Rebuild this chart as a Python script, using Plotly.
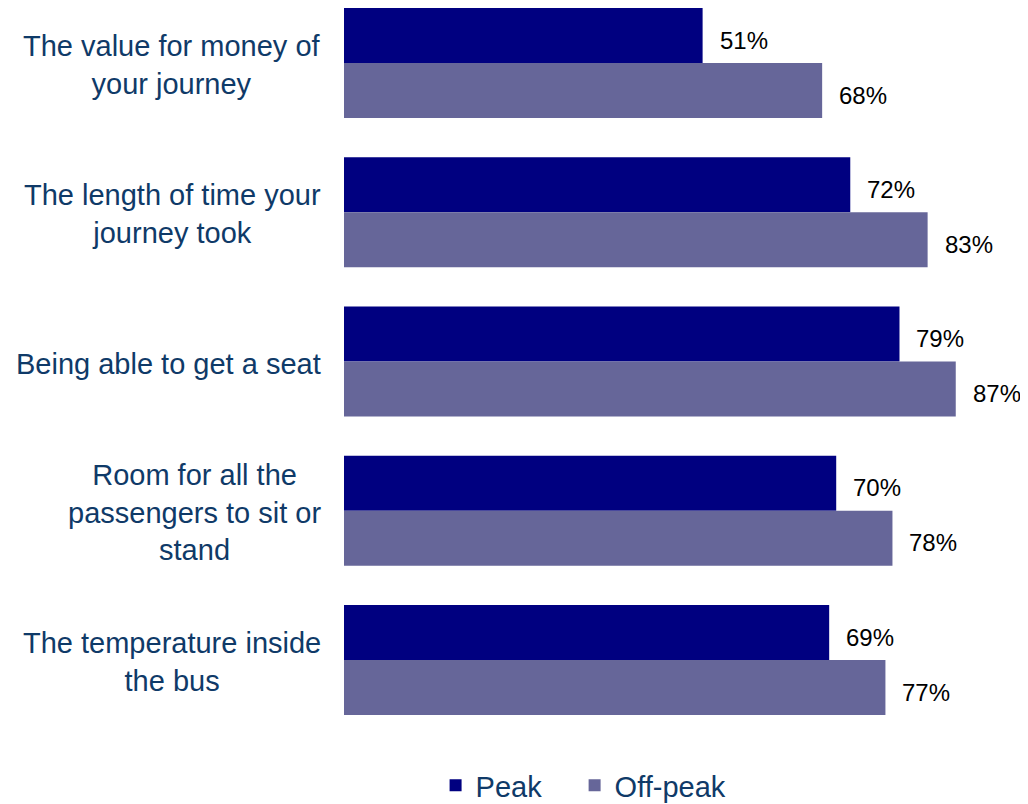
import plotly.graph_objects as go

categories = [
    "The value for money of<br>your journey",
    "The length of time your<br>journey took",
    "Being able to get a seat",
    "Room for all the<br>passengers to sit or<br>stand",
    "The temperature inside<br>the bus",
]
peak = [51, 72, 79, 70, 69]
offpeak = [68, 83, 87, 78, 77]
series_names = ["Peak", "Off-peak"]
colors = ["#000080", "#666699"]

FONT = "Liberation Sans, Arial, sans-serif"
LABEL_COLOR = "#0F3A68"

W, H = 1020, 796
idx = list(range(len(categories)))

fig = go.Figure()
for name, vals, col, lg in zip(series_names, [peak, offpeak], colors, ["legend", "legend2"]):
    fig.add_trace(go.Bar(
        y=idx, x=vals, name=name, orientation="h",
        marker=dict(color=col, line=dict(width=0)),
        hoverinfo="skip", legend=lg,
    ))

annotations = []
for i, cat in enumerate(categories):
    annotations.append(dict(
        x=0, xref="paper", y=i, yref="y", text=cat, showarrow=False,
        xanchor="right", yanchor="middle", align="center", xshift=-21, yshift=-2,
        font=dict(family=FONT, size=29, color=LABEL_COLOR),
    ))
for vals, ys in [(peak, 23), (offpeak, -32)]:
    for i, v in enumerate(vals):
        annotations.append(dict(
            x=v, xref="x", y=i, yref="y", text=f"{v}%", showarrow=False,
            xanchor="left", yanchor="middle", xshift=15, yshift=ys,
            font=dict(family=FONT, size=24, color="#000000"),
        ))

legend_style = dict(
    orientation="h", xref="container", yref="container",
    xanchor="left", y=0.0234, yanchor="middle",
    font=dict(family=FONT, size=29, color=LABEL_COLOR),
    itemwidth=30, bgcolor="rgba(0,0,0,0)",
)

fig.update_layout(
    width=W, height=H,
    margin=dict(l=336, r=16, t=0, b=69, pad=0),
    paper_bgcolor="white", plot_bgcolor="white",
    barmode="group", bargap=0.263, bargroupgap=0,
    xaxis=dict(range=[0, 95], visible=False, fixedrange=True),
    yaxis=dict(range=[4.5025, -0.3685], visible=False, fixedrange=True),
    showlegend=True,
    legend=dict(x=0.4192, **legend_style),
    legend2=dict(x=0.5555, **legend_style),
    annotations=annotations,
)

fig.write_html("out.html")
